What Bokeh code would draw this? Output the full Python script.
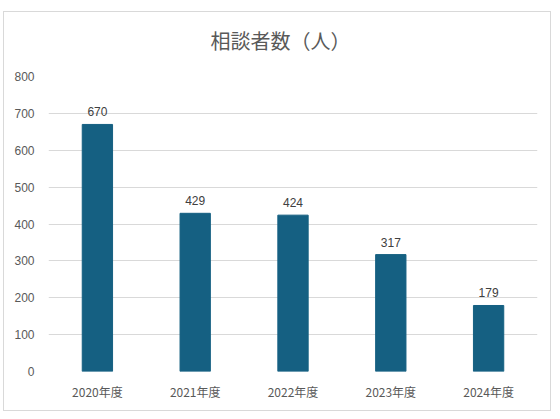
from bokeh.plotting import figure
from bokeh.models import Range1d, FactorRange, FixedTicker, Title
from bokeh.core.properties import value
from bokeh.embed import file_html
from bokeh.resources import INLINE

title_text = "相談者数（人）"
categories = ["2020年度", "2021年度", "2022年度", "2023年度", "2024年度"]
counts = [670, 429, 424, 317, 179]
y_ticks = [0, 100, 200, 300, 400, 500, 600, 700, 800]

p = figure(
    x_range=FactorRange(*categories, range_padding=0),
    y_range=Range1d(0, 800),
    width=548, height=400,
    output_backend="svg", toolbar_location=None,
    min_border_left=44, min_border_right=15,
    min_border_top=64, min_border_bottom=41,
    title=None,
    margin=(11, 0, 0, 3),
    styles={"border": "1px solid #d9d9d9"},
)

# blank spacer (white, empty) between the frame and the title
spacer = Title(text=" ", text_font="Liberation Sans", text_font_size="10px",
               text_color="white", standoff=4)
p.add_layout(spacer, "above")

main_title = Title(text=title_text, align="left", offset=162, standoff=10,
                   text_font="Noto Sans CJK JP", text_font_size="20px",
                   text_font_style="normal", text_color="#595959")
p.add_layout(main_title, "above")

p.vbar(x=categories, top=counts, width=0.31, fill_color="#156082",
       line_color="#156082")

p.text(x=categories, y=counts, text=[str(v) for v in counts],
       text_align="center", text_baseline="bottom", y_offset=-8,
       text_font=value("Liberation Sans"), text_font_size="12px",
       text_color="#404040")

p.outline_line_color = None
p.background_fill_color = "white"
p.border_fill_color = "white"

p.xgrid.grid_line_color = None
p.ygrid.grid_line_color = "#d9d9d9"
p.ygrid.grid_line_width = 1
p.yaxis.ticker = FixedTicker(ticks=y_ticks)

for ax in (p.xaxis[0], p.yaxis[0]):
    ax.axis_line_color = None
    ax.major_tick_line_color = None
    ax.minor_tick_line_color = None
    ax.major_tick_out = 0
    ax.major_tick_in = 0
    ax.major_label_text_color = "#595959"
    ax.major_label_text_font_size = "12px"

p.yaxis.major_label_text_font = "Liberation Sans"
p.yaxis.major_label_standoff = 14
p.xaxis.major_label_text_font = "Noto Sans CJK JP"
p.xaxis.major_label_standoff = 11

open("out.html", "w").write(file_html(p, INLINE))
